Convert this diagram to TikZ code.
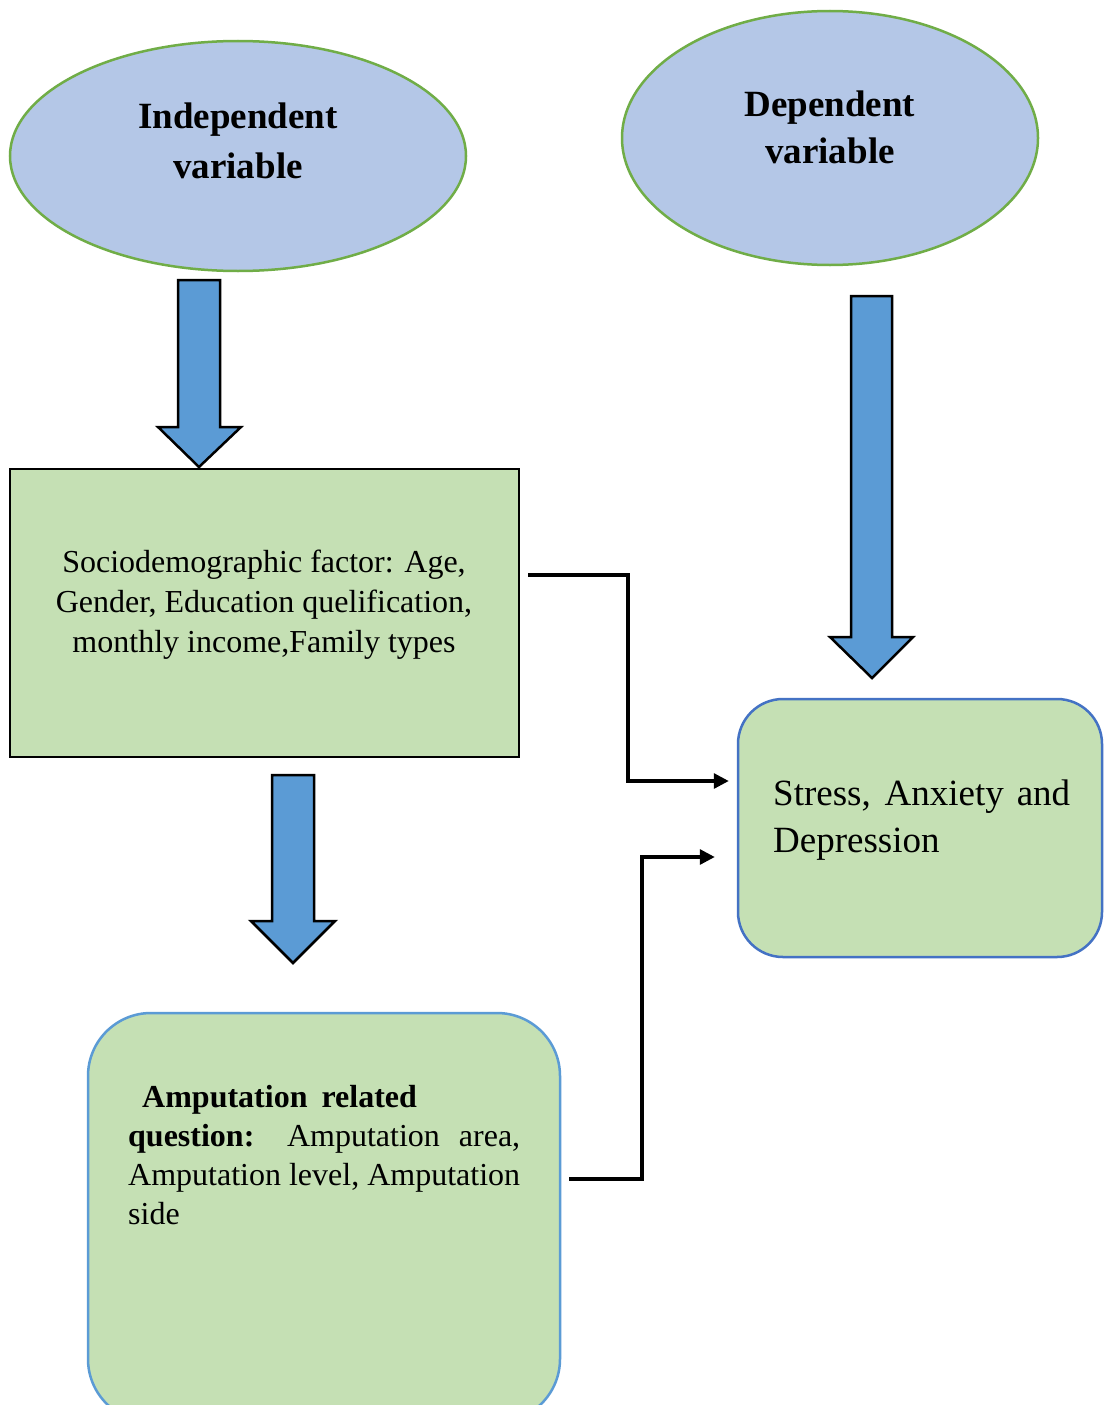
\documentclass[tikz,border=0pt]{standalone}
\usepackage{fontspec}
\setmainfont{Liberation Serif}
\usetikzlibrary{shapes.geometric,arrows.meta,calc}
\definecolor{ellfill}{HTML}{B4C7E7}
\definecolor{ellline}{HTML}{70AD47}
\definecolor{boxfill}{HTML}{C5E0B4}
\definecolor{arrowblue}{HTML}{5B9BD5}
\definecolor{darkblue}{HTML}{4472C4}
\definecolor{lightblue}{HTML}{5B9BD5}
\begin{document}
\begin{tikzpicture}[x=1pt,y=-1pt,
  ellnode/.style={ellipse, draw=ellline, fill=ellfill, line width=2.5pt, inner sep=0pt},
  sqbox/.style={rectangle, draw=black, fill=boxfill, line width=2pt, inner sep=0pt},
  rbox/.style={rectangle, fill=boxfill, line width=2.5pt, inner sep=0pt},
  blockarrow/.style={draw=black, fill=arrowblue, line width=2.5pt, line join=miter},
  conn/.style={draw=black, line width=3.2pt, -{Triangle[length=15pt,width=15pt]}},
  bigbold/.style={font=\bfseries\fontsize{37}{48}\selectfont, inner sep=0pt, anchor=base},
  txt/.style={font=\fontsize{32}{40}\selectfont, inner sep=0pt},
  txtbig/.style={font=\fontsize{37}{47}\selectfont, inner sep=0pt, anchor=base west}
]
\clip (0,0) rectangle (1104,1405);
\fill[white] (0,0) rectangle (1104,1405);

% ellipses
\node[ellnode, minimum width=456pt, minimum height=230pt] (indep) at (238,156) {};
\node[bigbold] (indep1) at (238,128) {Independent};
\node[bigbold] (indep2) at (238,178) {variable};

\node[ellnode, minimum width=416pt, minimum height=254pt] (dep) at (830,138) {};
\node[bigbold] (dep1) at (830,116) {Dependent};
\node[bigbold] (dep2) at (830,163) {variable};

% block arrows
\draw[blockarrow] (178,280) -- (220,280) -- (220,427) -- (241,427) -- (199,467) -- (158,427) -- (178,427) -- cycle;
\draw[blockarrow] (851,296) -- (892,296) -- (892,637) -- (913,637) -- (872,678) -- (830,637) -- (851,637) -- cycle;
\draw[blockarrow] (272,775) -- (314,775) -- (314,921) -- (335,921) -- (293,963) -- (251,921) -- (272,921) -- cycle;

% sociodemographic box
\node[sqbox, minimum width=509pt, minimum height=288pt] (socio) at (264.5,613) {};
\node[txt, anchor=base] (socio1) at (264,572) {Sociodemographic factor: Age,};
\node[txt, anchor=base] (socio2) at (264,612) {Gender, Education quelification,};
\node[txt, anchor=base] (socio3) at (264,652) {monthly income,Family types};

% stress box
\node[rbox, draw=darkblue, rounded corners=45pt, minimum width=364pt, minimum height=258pt] (stress) at (920,828) {};
\node[txtbig] (stress1) at (773,805) {\makebox[297pt][s]{Stress, Anxiety and}};
\node[txtbig] (stress2) at (773,852) {Depression};

% amputation box
\node[rbox, draw=lightblue, rounded corners=63pt, minimum width=472pt, minimum height=409pt] (amp) at (324,1217.5) {};
\node[txt, anchor=base west] (amp1) at (128,1107) {\hspace*{14pt}\textbf{Amputation}\hspace{14pt}\textbf{related}};
\node[txt, anchor=base west] (amp2) at (128,1146) {\makebox[392pt][s]{\textbf{question:} Amputation area,}};
\node[txt, anchor=base west] (amp3) at (128,1185) {\makebox[392pt][s]{Amputation level, Amputation}};
\node[txt, anchor=base west] (amp4) at (128,1224) {side};

% connectors
\coordinate (c1s) at ($(socio.east)+(8,-38)$);
\coordinate (c1e) at ($(stress.west)+(-8,-47)$);
\draw[conn] (c1s) -- (628,575) |- (c1e);
\coordinate (c2s) at (569,1179);
\coordinate (c2e) at ($(stress.west)+(-22,29)$);
\draw[conn] (c2s) -- (642,1179) |- (c2e);
\end{tikzpicture}
\end{document}
